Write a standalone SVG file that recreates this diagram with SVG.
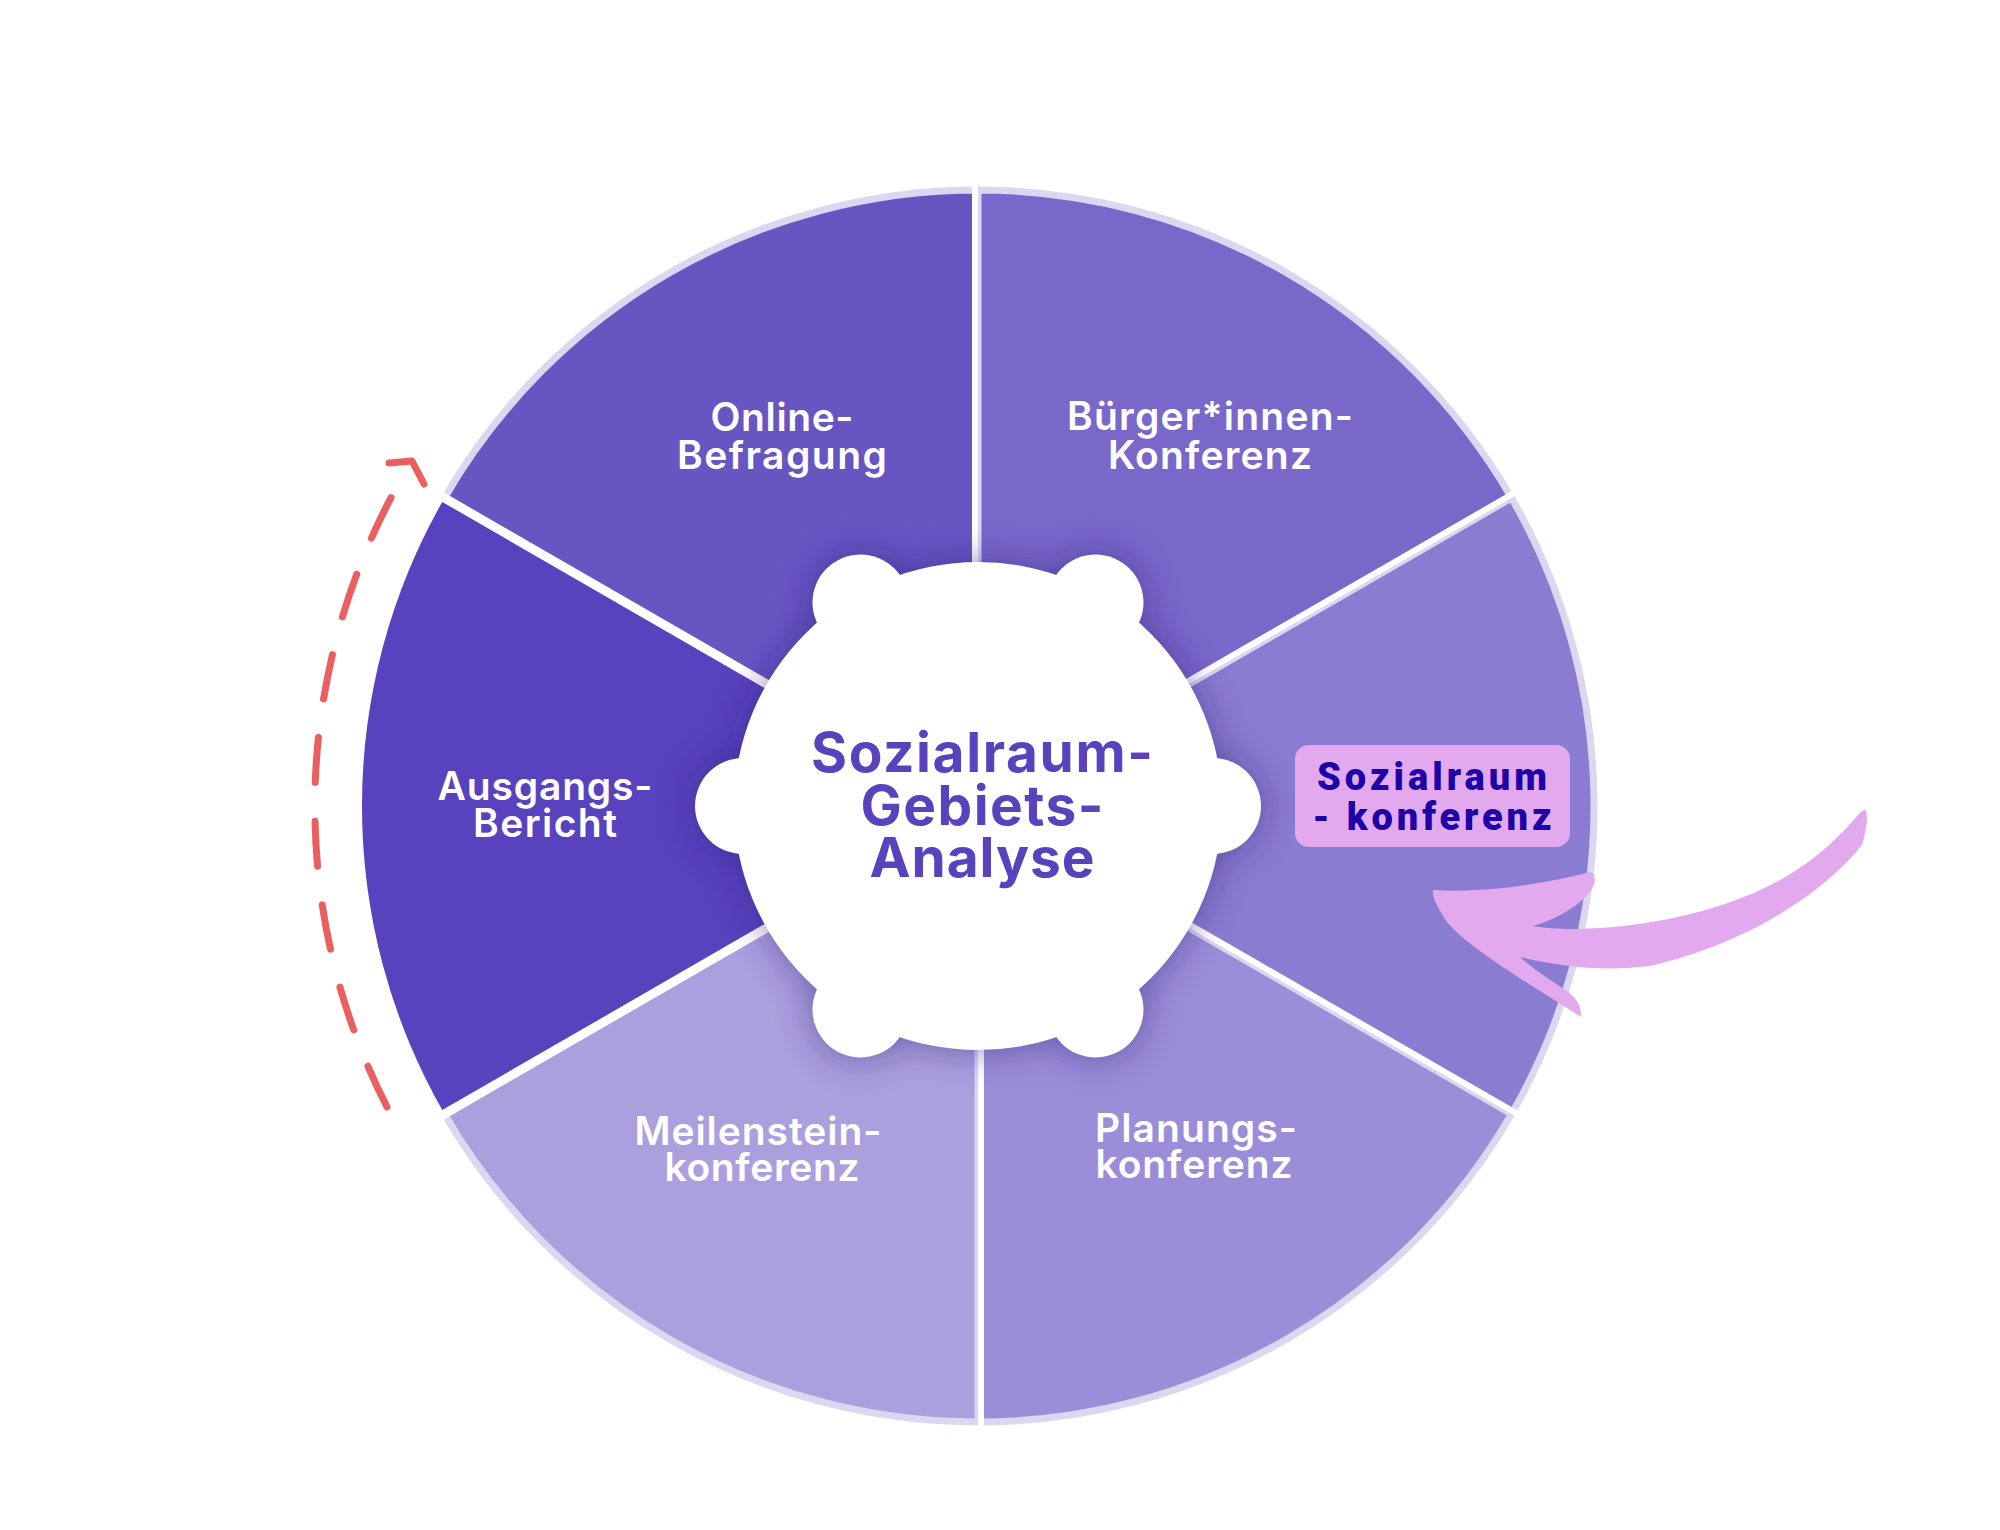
<svg xmlns="http://www.w3.org/2000/svg" width="2000" height="1530" viewBox="0 0 2000 1530">
<defs>
<style>
.seg{stroke:#DCD6F1;stroke-width:7;stroke-linejoin:round}
.dv{stroke:#FFFFFF;stroke-width:6;fill:none}
.dvw{stroke:#FFFFFF;stroke-width:9;fill:none}
.lbl{font-family:Inter,"Noto Sans","Liberation Sans",sans-serif;font-weight:600;font-size:39px;fill:#FFFFFF;text-anchor:middle}
.ctr{font-family:Inter,"Noto Sans","Liberation Sans",sans-serif;font-weight:700;font-size:55px;fill:#5842BD;text-anchor:middle}
.hl{font-family:Roboto,"Liberation Sans",sans-serif;font-weight:900;font-size:38px;fill:#1D00A8;text-anchor:middle}
.blob{fill:#FFFFFF}
</style>
<filter id="sh" x="-40%" y="-40%" width="180%" height="180%">
<feGaussianBlur stdDeviation="18"/>
</filter>
<g id="blobshape">
<circle cx="978" cy="806" r="244"/>
<circle cx="1213" cy="806" r="48"/>
<circle cx="1095.5" cy="602.5" r="48"/>
<circle cx="860.5" cy="602.5" r="48"/>
<circle cx="743" cy="806" r="48"/>
<circle cx="860.5" cy="1009.5" r="48"/>
<circle cx="1095.5" cy="1009.5" r="48"/>
</g>
</defs>
<rect x="0" y="0" width="2000" height="1530" fill="#FFFFFF"/>

<g id="seg-online">
<path class="seg" fill="#6755C2" d="M978 806 L978 190 A616 616 0 0 0 444.5 498 Z"/>
<text class="lbl" x="782" y="431" textLength="143" lengthAdjust="spacing">Online-</text>
<text class="lbl" x="782" y="469" textLength="210" lengthAdjust="spacing">Befragung</text>
</g>
<g id="seg-buerger">
<path class="seg" fill="#7A67CA" d="M978 806 L1511.5 498 A616 616 0 0 0 978 190 Z"/>
<text class="lbl" x="1210" y="430" textLength="286" lengthAdjust="spacing">Bürger*innen-</text>
<text class="lbl" x="1210" y="469" textLength="204" lengthAdjust="spacing">Konferenz</text>
</g>
<g id="seg-sozialraumkonferenz">
<path class="seg" fill="#8A7CD0" d="M978 806 L1511.5 1114 A616 616 0 0 0 1511.5 498 Z"/>
</g>
<g id="seg-planung">
<path class="seg" fill="#9B8DD8" d="M978 806 L978 1422 A616 616 0 0 0 1511.5 1114 Z"/>
<text class="lbl" x="1196" y="1142" textLength="202" lengthAdjust="spacing">Planungs-</text>
<text class="lbl" x="1194" y="1178" textLength="197" lengthAdjust="spacing">konferenz</text>
</g>
<g id="seg-meilenstein">
<path class="seg" fill="#AB9FDE" d="M978 806 L444.5 1114 A616 616 0 0 0 978 1422 Z"/>
<text class="lbl" x="758" y="1145" textLength="247" lengthAdjust="spacing">Meilenstein-</text>
<text class="lbl" x="762" y="1181" textLength="195" lengthAdjust="spacing">konferenz</text>
</g>
<g id="seg-ausgang">
<path fill="#5842BD" d="M978 806 L444.5 498 A616 616 0 0 0 444.5 1114 Z"/>
<text class="lbl" x="545" y="800" textLength="215" lengthAdjust="spacing">Ausgangs-</text>
<text class="lbl" x="545" y="837" textLength="144" lengthAdjust="spacing">Bericht</text>
</g>

<g id="dividers">
<line class="dv" x1="975" y1="806" x2="975" y2="180"/>
<line class="dv" x1="976.5" y1="803.4" x2="1520.5" y2="489.4"/>
<line class="dv" x1="979.5" y1="803.4" x2="1523.5" y2="1117.4"/>
<line class="dv" x1="981" y1="806" x2="981" y2="1432"/>
<line class="dvw" x1="978" y1="806" x2="435.8" y2="1119"/>
<line class="dvw" x1="978" y1="806" x2="435.8" y2="493"/>
</g>

<g id="center">
<use href="#blobshape" fill="#2A1678" opacity="0.5" filter="url(#sh)"/>
<use href="#blobshape" class="blob"/>
<text class="ctr" x="982" y="772" textLength="342" lengthAdjust="spacing">Sozialraum-</text>
<text class="ctr" x="982" y="825" textLength="243" lengthAdjust="spacing">Gebiets-</text>
<text class="ctr" x="982" y="877" textLength="225" lengthAdjust="spacing">Analyse</text>
</g>

<g id="highlight-label">
<rect x="1295" y="745" width="275" height="102" rx="14" ry="14" fill="#E2A9EE"/>
<text class="hl" x="1432" y="790" textLength="230" lengthAdjust="spacing">Sozialraum</text>
<text class="hl" x="1432" y="830" textLength="239" lengthAdjust="spacing">- konferenz</text>
</g>

<g id="connectors">
<path id="pink-arrow" fill="#E2A9EE" d="M1866 810 C1868 818 1867 828 1862 845 C1830 885 1760 940 1650 966 C1600 972 1560 966 1520 957 C1540 975 1560 985 1572 995 C1580 1003 1581 1010 1581 1017 C1540 990 1470 950 1447 922 C1437 907 1432 897 1433 890 C1480 893 1540 885 1590 872 C1596 872 1596 884 1592 888 C1585 902 1560 918 1533 926 C1580 935 1700 925 1780 880 C1820 858 1845 830 1858 815 C1861 811 1864 810 1866 810 Z"/>
<path id="cycle-arc" fill="none" stroke="#EA5F5F" stroke-width="7" stroke-linecap="round" stroke-dasharray="45 39" d="M387 1107 A663 663 0 0 1 410 464"/>
<polyline fill="none" stroke="#EA5F5F" stroke-width="7" stroke-linecap="round" stroke-linejoin="round" points="389,463 412,461 424,484"/>
</g>
</svg>
